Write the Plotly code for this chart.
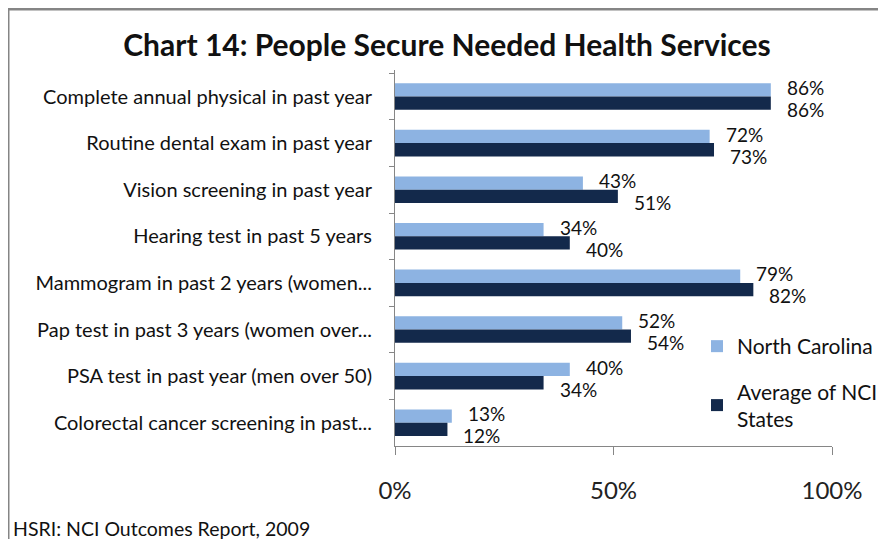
import plotly.graph_objects as go

# Chart data
categories = [
    "Complete annual physical in past year",
    "Routine dental exam in past year",
    "Vision screening in past year",
    "Hearing test in past 5 years",
    "Mammogram in past 2 years (women...",
    "Pap test in past 3 years (women over...",
    "PSA test in past year (men over 50)",
    "Colorectal cancer screening in past...",
]
north_carolina = [0.86, 0.72, 0.43, 0.34, 0.79, 0.52, 0.40, 0.13]
nci_average = [0.86, 0.73, 0.51, 0.40, 0.82, 0.54, 0.34, 0.12]
x_ticks = [0, 0.5, 1.0]
x_tick_labels = ["0%", "50%", "100%"]

FONT = "Lato, 'Open Sans', sans-serif"
OFF = 8  # page body margin
W, H = 886 - OFF, 539 - OFF
L, R, T, B = 387, 54, 62, 93
pw, ph = W - L - R, H - T - B


# helpers: convert page pixel positions (as measured on the reference) to paper coords
def px_x(p):
    return (p - OFF - L) / pw


def px_y(p):
    return (H - B - (p - OFF)) / ph


fig = go.Figure()
fig.add_trace(go.Bar(name="North Carolina", y=categories, x=north_carolina,
                     orientation="h", legendgroup="nc",
                     marker=dict(color="#8DB3E2", line=dict(width=0))))
fig.add_trace(go.Bar(name="Average of NCI<br>States", y=categories, x=nci_average,
                     orientation="h", legendgroup="nci",
                     marker=dict(color="#13294B", line=dict(width=0))))

# data labels, offset a little to the right of each bar end like Excel does
annotations = []
for cat, v in zip(categories, north_carolina):
    annotations.append(dict(x=v, y=cat, text=f"{round(v * 100)}%", showarrow=False,
                            xanchor="left", yanchor="middle", xshift=14, yshift=9,
                            font=dict(family=FONT, size=19, color="#111")))
for cat, v in zip(categories, nci_average):
    annotations.append(dict(x=v, y=cat, text=f"{round(v * 100)}%", showarrow=False,
                            xanchor="left", yanchor="middle", xshift=14, yshift=-13,
                            font=dict(family=FONT, size=19, color="#111")))

annotations.append(dict(xref="paper", yref="paper", x=px_x(11), y=px_y(528),
                        text="HSRI: NCI Outcomes Report, 2009", showarrow=False,
                        xanchor="left", yanchor="middle",
                        font=dict(family=FONT, size=19.5, color="#111")))

# outer frame (top and left edges)
shapes = [
    dict(type="line", xref="paper", yref="paper", x0=px_x(8), x1=px_x(900),
         y0=px_y(9), y1=px_y(9), line=dict(color="#858585", width=3)),
    dict(type="line", xref="paper", yref="paper", x0=px_x(8), x1=px_x(8),
         y0=px_y(9), y1=px_y(560), line=dict(color="#858585", width=3)),
]

fig.update_layout(
    width=W, height=H,
    margin=dict(l=L, r=R, t=T, b=B, autoexpand=False),
    paper_bgcolor="white", plot_bgcolor="white",
    barmode="group", bargap=0.43, bargroupgap=0,
    title=dict(text="<b>Chart 14: People Secure Needed Health Services</b>",
               x=(447 - OFF) / W, xanchor="center", y=1 - (45 - OFF) / H, yanchor="middle",
               font=dict(family=FONT, size=30, color="#111")),
    font=dict(family=FONT, color="#111"),
    showlegend=True,
    legend=dict(x=px_x(697), y=px_y(326), xanchor="left", yanchor="top",
                font=dict(family=FONT, size=21, color="#111"),
                traceorder="grouped", tracegroupgap=15, itemwidth=30,
                bgcolor="rgba(0,0,0,0)"),
    annotations=annotations,
    shapes=shapes,
)

fig.update_xaxes(range=[0, 1.0], tickvals=x_ticks, ticktext=x_tick_labels,
                 showgrid=False, zeroline=False, showline=True, linecolor="#868686",
                 linewidth=1, ticks="outside", ticklen=8, tickcolor="#868686",
                 automargin=False, ticklabelstandoff=15,
                 tickfont=dict(family=FONT, size=24, color="#222"))
fig.update_yaxes(autorange="reversed", showgrid=False, showline=True, linecolor="#868686",
                 linewidth=1, ticks="outside", ticklen=5, tickcolor="#868686",
                 tickson="boundaries", ticklabelstandoff=18, automargin=False,
                 tickfont=dict(family=FONT, size=20, color="#111"))

fig.write_html("out.html")
